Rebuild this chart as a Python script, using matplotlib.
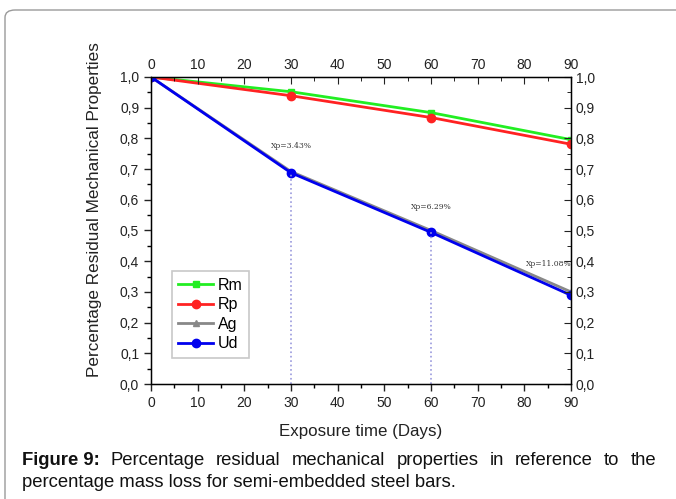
import matplotlib
matplotlib.use("Agg")
import matplotlib.pyplot as plt
from matplotlib.patches import FancyBboxPatch
from matplotlib.ticker import MultipleLocator, FuncFormatter

plt.rcParams['font.family'] = ['Liberation Sans', 'DejaVu Sans']

days = [0, 30, 60, 90]
rm = [1.0, 0.952, 0.884, 0.796]
rp = [1.0, 0.939, 0.868, 0.781]
ag = [1.0, 0.692, 0.500, 0.300]
ud = [1.0, 0.688, 0.494, 0.289]
xp_days = [30, 60, 90]
xp_labels = ["Xp=3.43%", "Xp=6.29%", "Xp=11.08%"]
xp_label_pos = [(30, 0.775), (60, 0.578), (85.3, 0.392)]

W, H = 676, 499
fig = plt.figure(figsize=(W / 100, H / 100), dpi=100)

# border frame (rounded top-left)
box = FancyBboxPatch((5 / W, -0.2), 1.2, 1.2 - 10 / H,
                     boxstyle="round,pad=0,rounding_size=0.015",
                     transform=fig.transFigure, fill=False,
                     edgecolor="#9a9a9a", linewidth=1.0, clip_on=False)
fig.patches.append(box)

ax = fig.add_axes([151 / W, 1 - 384 / H, 420 / W, 307 / H])
fmt = FuncFormatter(lambda v, p: f"{v:.1f}".replace(".", ","))

ax.plot(days, rm, color="#22ee22", marker="s", markersize=5, lw=2, label="Rm")
ax.plot(days, rp, color="#ff2222", marker="o", markersize=6, lw=2, label="Rp")
ax.plot(days, ag, color="#888888", marker="^", markersize=5, lw=2, label="Ag")
ax.plot(days, ud, color="#0000ee", marker="o", markersize=6, lw=2, label="Ud")

for d in xp_days[:2]:
    ax.plot([d, d], [0, ud[days.index(d)]], color="#9999dd", ls=":", lw=1.2)
for (x, y), t in zip(xp_label_pos, xp_labels):
    ax.text(x, y, t, fontsize=5.5, ha="center", va="center", color="#333333",
            family="DejaVu Serif")

ax.set_xlim(0, 90)
ax.set_ylim(0, 1.0)
ax.xaxis.set_major_locator(MultipleLocator(10))
ax.xaxis.set_minor_locator(MultipleLocator(5))
ax.yaxis.set_major_locator(MultipleLocator(0.1))
ax.yaxis.set_minor_locator(MultipleLocator(0.05))
ax.yaxis.set_major_formatter(fmt)
ax.tick_params(axis="both", which="major", direction="out", length=5, width=1,
               labelsize=10, colors="#222222")
ax.tick_params(axis="both", which="minor", direction="out", length=3, width=1)
for s in ax.spines.values():
    s.set_linewidth(1.0)
    s.set_color("#333333")

axt = ax.twiny()
axt.set_xlim(0, 90)
axt.xaxis.set_major_locator(MultipleLocator(10))
axt.xaxis.set_minor_locator(MultipleLocator(5))
axt.tick_params(axis="x", which="major", direction="in", length=5, labelsize=10, colors="#222222")
axt.tick_params(axis="x", which="minor", direction="in", length=3)

axr = ax.twinx()
axr.set_ylim(0, 1.0)
axr.yaxis.set_major_locator(MultipleLocator(0.1))
axr.yaxis.set_minor_locator(MultipleLocator(0.05))
axr.yaxis.set_major_formatter(fmt)
axr.tick_params(axis="y", which="major", direction="in", length=5, labelsize=10, colors="#222222")
axr.tick_params(axis="y", which="minor", direction="in", length=3)

ax.set_xlabel("Exposure time (Days)", fontsize=12.2, color="#222222", labelpad=10)
ax.set_ylabel("Percentage Residual Mechanical Properties", fontsize=12.3,
              color="#222222")
ax.yaxis.set_label_coords(-0.117, 0.567)

leg = ax.legend(loc="lower left", bbox_to_anchor=(0.03, 0.06), fontsize=11.5,
                frameon=True, fancybox=False, edgecolor="#bbbbbb",
                handlelength=2.2, handletextpad=0.3, labelspacing=0.28,
                borderpad=0.4)
leg.get_frame().set_linewidth(1.2)

# justified caption
fig.canvas.draw()
renderer = fig.canvas.get_renderer()
line1 = [("Figure 9:", "bold"), ("Percentage", "normal"), ("residual", "normal"),
         ("mechanical", "normal"), ("properties", "normal"), ("in", "normal"),
         ("reference", "normal"), ("to", "normal"), ("the", "normal")]
x0, x1 = 22 / W, 656 / W
y1 = 1 - 465 / H
texts = []
for w, wt in line1:
    t = fig.text(0, y1, w, fontsize=13.3, fontweight=wt, va="baseline", ha="left", color="#111111")
    texts.append(t)
widths = [t.get_window_extent(renderer).width / W for t in texts]
gap = (x1 - x0 - sum(widths)) / (len(texts) - 1)
x = x0
for t, wdt in zip(texts, widths):
    t.set_x(x)
    x += wdt + gap
fig.text(x0, 1 - 487 / H, "percentage mass loss for semi-embedded steel bars.",
         fontsize=13.3, va="baseline", ha="left", color="#111111")

fig.savefig("out.png", dpi=100)
